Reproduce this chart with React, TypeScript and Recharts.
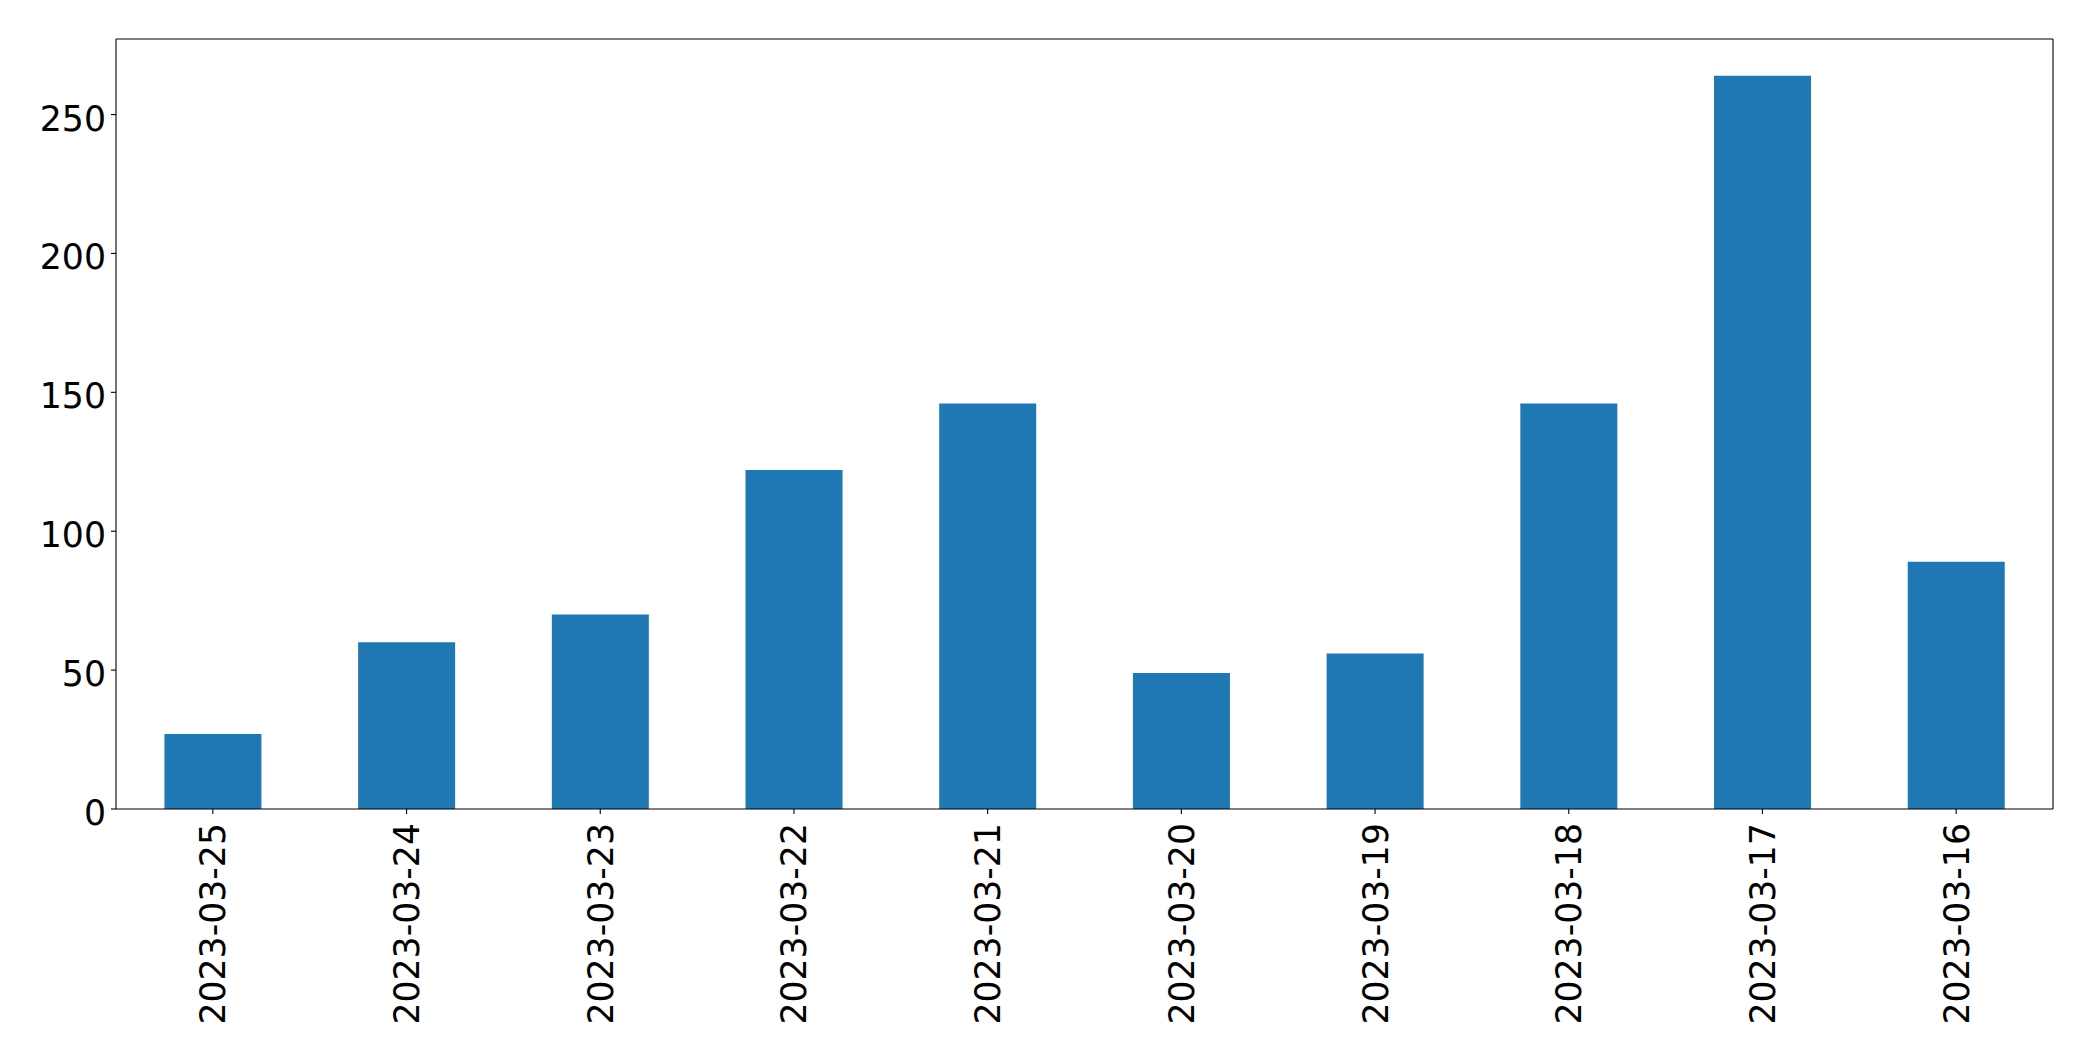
import React from 'react';
import { BarChart, Bar, XAxis, YAxis } from 'recharts';

// dates in the order they were plotted (newest first)
const dates = [
    '2023-03-25', '2023-03-24', '2023-03-23', '2023-03-22', '2023-03-21',
    '2023-03-20', '2023-03-19', '2023-03-18', '2023-03-17', '2023-03-16',
];
const counts = [27, 60, 70, 122, 146, 49, 56, 146, 264, 89];
const yTicks = [0, 50, 100, 150, 200, 250];

const FONT = '"DejaVu Sans", sans-serif';
const FONT_SIZE = 34.7;
const BAR_COLOR = '#1f77b4';
const Y_MAX = 277.2;

const data = dates.map((date, i) => ({ date, count: counts[i] }));

const XTick = (props: any) => {
    const { x, y, payload } = props;
    return (
        <g transform={`translate(${x},${y + 4}) rotate(-90)`}>
            <text x={0} y={0} dy={12.5} textAnchor="end" fontFamily={FONT} fontSize={FONT_SIZE} fill="#000">
                {payload.value}
            </text>
        </g>
    );
};

const YTick = (props: any) => {
    const { x, y, payload } = props;
    return (
        <text x={x} y={y} dy={16} textAnchor="end" fontFamily={FONT} fontSize={FONT_SIZE} fill="#000">
            {payload.value}
        </text>
    );
};

const App: React.FC = () => {
    return (
        <div style={{ width: 2093, height: 1061, background: 'white' }}>
            <style>{`body { margin: 0; }`}</style>
            <BarChart
                width={2093}
                height={1061}
                data={data}
                margin={{ top: 38, right: 39, bottom: 0, left: 0 }}
                barCategoryGap="25%"
            >
                <XAxis
                    dataKey="date"
                    height={252}
                    interval={0}
                    tickSize={5}
                    tickMargin={5}
                    tick={<XTick />}
                    axisLine={{ stroke: '#000', strokeWidth: 1.1 }}
                    tickLine={{ stroke: '#000', strokeWidth: 1.1 }}
                />
                <XAxis
                    xAxisId="top"
                    dataKey="date"
                    orientation="top"
                    height={1}
                    tick={false}
                    tickLine={false}
                    axisLine={{ stroke: '#000', strokeWidth: 1.1 }}
                />
                <YAxis
                    type="number"
                    width={116}
                    domain={[0, Y_MAX]}
                    ticks={yTicks}
                    allowDataOverflow
                    tickSize={5}
                    tickMargin={5}
                    tick={<YTick />}
                    axisLine={{ stroke: '#000', strokeWidth: 1.1 }}
                    tickLine={{ stroke: '#000', strokeWidth: 1.1 }}
                />
                <YAxis
                    yAxisId="right"
                    orientation="right"
                    type="number"
                    width={1}
                    domain={[0, Y_MAX]}
                    tick={false}
                    tickLine={false}
                    axisLine={{ stroke: '#000', strokeWidth: 1.1 }}
                />
                <Bar dataKey="count" fill={BAR_COLOR} isAnimationActive={false} />
            </BarChart>
        </div>
    );
};

export default App;
